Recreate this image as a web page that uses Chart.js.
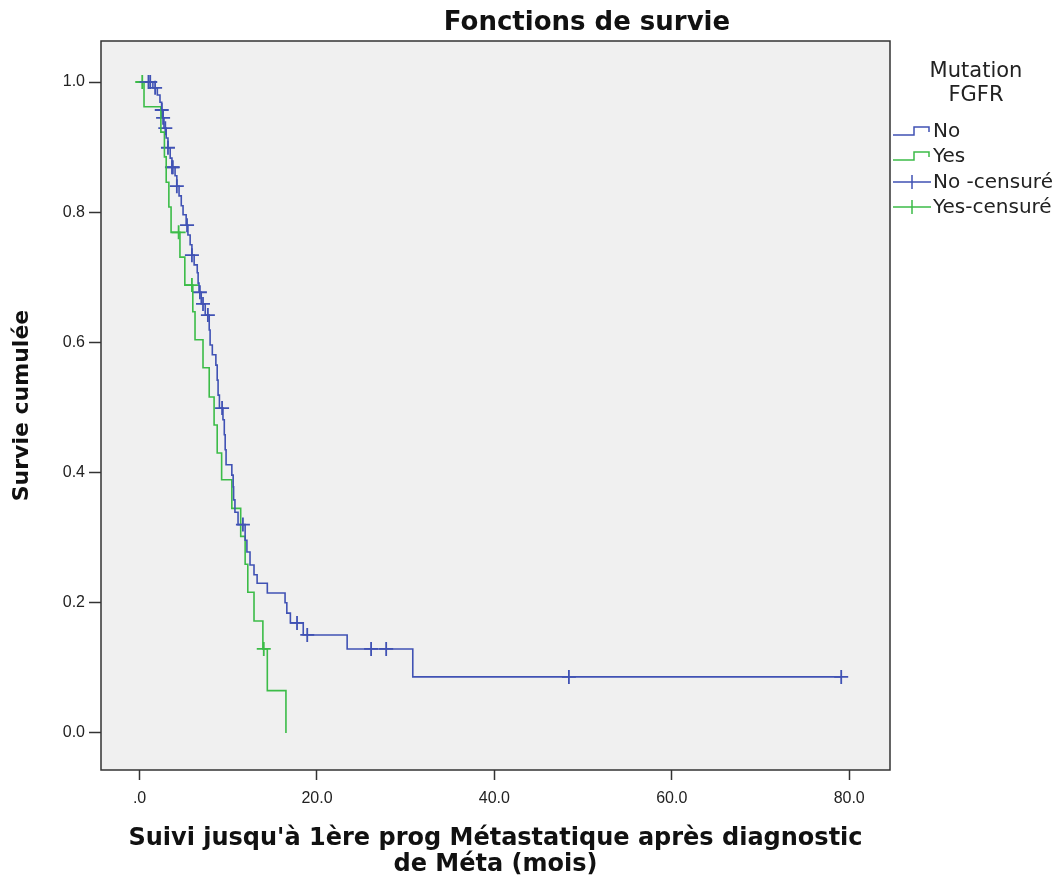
<!DOCTYPE html>
<html>
<head>
<meta charset="utf-8">
<script src="https://cdn.jsdelivr.net/npm/chart.js@4/dist/chart.umd.min.js"></script>
<style>
  body { margin: 0; background: #fff; }
  #km { display: block; }
</style>
</head>
<body>
<canvas id="km" width="1062" height="881"></canvas>
<script>
// Kaplan-Meier data: [time (mois), survie after the drop]
const noSteps = [
  [0, 1], [1.5, 0.991], [2.0, 0.980], [2.3, 0.969], [2.5, 0.957], [2.65, 0.945],
  [2.75, 0.929], [3.0, 0.914], [3.2, 0.899], [3.45, 0.883], [3.65, 0.869], [4.0, 0.856],
  [4.2, 0.840], [4.45, 0.825], [4.7, 0.810], [4.9, 0.796], [5.25, 0.780], [5.45, 0.765],
  [5.7, 0.750], [5.9, 0.734], [6.15, 0.719], [6.5, 0.707], [6.6, 0.691], [6.7, 0.677],
  [6.95, 0.659], [7.4, 0.642], [7.85, 0.619], [7.95, 0.596], [8.2, 0.581], [8.6, 0.565],
  [8.75, 0.542], [8.85, 0.519], [9.0, 0.499], [9.4, 0.481], [9.55, 0.458], [9.65, 0.435],
  [9.75, 0.412], [10.4, 0.396], [10.55, 0.378], [10.6, 0.358], [10.75, 0.339], [11.1, 0.320],
  [11.9, 0.296], [12.1, 0.278], [12.45, 0.258], [12.9, 0.243], [13.25, 0.230], [14.4, 0.215],
  [16.4, 0.200], [16.6, 0.184], [17.0, 0.169], [18.45, 0.1505], [23.4, 0.129], [30.8, 0.086],
  [79.1, 0.086]
];
const yesSteps = [
  [0, 1], [0.5, 0.962], [2.4, 0.923], [2.8, 0.885], [3.0, 0.846], [3.3, 0.808],
  [3.55, 0.769], [4.55, 0.731], [5.1, 0.688], [6.0, 0.647], [6.25, 0.604], [7.15, 0.561],
  [7.85, 0.516], [8.4, 0.473], [8.75, 0.430], [9.25, 0.389], [10.4, 0.345], [11.4, 0.302],
  [11.9, 0.259], [12.2, 0.216], [12.9, 0.172], [13.9, 0.129], [14.4, 0.065], [16.5, 0]
];
// censored times
const noCensored = [1.0, 1.2, 1.75, 2.5, 2.65, 2.9, 3.2, 3.65, 3.75, 4.2, 5.35, 5.9,
  6.8, 7.15, 7.7, 9.3, 11.65, 17.75, 18.9, 26.1, 27.8, 48.4, 79.1];
const yesCensored = [0.3, 4.4, 5.9, 14.0];

const xTicks = [0, 20, 40, 60, 80];
const yTicks = [0, 0.2, 0.4, 0.6, 0.8, 1.0];

const BLUE = '#4052b4';
const GREEN = '#3cbc48';
const FONT = "'Liberation Sans', Arial, sans-serif";
const WIDE = "'DejaVu Sans', 'Liberation Sans', sans-serif";

// survival value of a step curve at time t
function survAt(steps, t) {
  let s = 1;
  steps.forEach(p => { if (p[0] <= t) s = p[1]; });
  return s;
}

const toPts = steps => steps.map(p => ({ x: p[0], y: p[1] }));
const censorPts = (times, steps) => times.map(t => ({ x: t, y: survAt(steps, t) }));

// plot background + frame
const frame = {
  id: 'frame',
  beforeDatasetsDraw(chart) {
    const { ctx, chartArea: a } = chart;
    ctx.save();
    ctx.fillStyle = '#f0f0f0';
    ctx.fillRect(a.left, a.top, a.right - a.left, a.bottom - a.top);
    ctx.restore();
  },
  afterDatasetsDraw(chart) {
    const { ctx, chartArea: a } = chart;
    ctx.save();
    ctx.strokeStyle = '#333';
    ctx.lineWidth = 1.5;
    ctx.strokeRect(a.left, a.top, a.right - a.left, a.bottom - a.top);
    ctx.restore();
  }
};

// title and SPSS style legend
const decor = {
  id: 'decor',
  afterDraw(chart) {
    const ctx = chart.ctx;
    ctx.save();
    ctx.fillStyle = '#111';
    ctx.textAlign = 'center';
    ctx.textBaseline = 'middle';
    ctx.font = 'bold 26px ' + WIDE;
    ctx.fillText('Fonctions de survie', 587, 23);

    ctx.font = '21px ' + WIDE;
    ctx.fillStyle = '#222';
    ctx.fillText('Mutation', 976, 72);
    ctx.fillText('FGFR', 976, 96);

    ctx.textAlign = 'left';
    ctx.font = '20px ' + WIDE;
    ctx.lineWidth = 1.5;
    const rows = [
      { label: 'No', color: BLUE, kind: 'step', y: 131 },
      { label: 'Yes', color: GREEN, kind: 'step', y: 156 },
      { label: 'No -censuré', color: BLUE, kind: 'cross', y: 182 },
      { label: 'Yes-censuré', color: GREEN, kind: 'cross', y: 207 }
    ];
    rows.forEach(r => {
      ctx.strokeStyle = r.color;
      ctx.beginPath();
      if (r.kind === 'step') {
        ctx.moveTo(893, r.y + 4);
        ctx.lineTo(914, r.y + 4);
        ctx.lineTo(914, r.y - 4);
        ctx.lineTo(929, r.y - 4);
        ctx.lineTo(929, r.y + 1);
      } else {
        ctx.moveTo(893, r.y);
        ctx.lineTo(931, r.y);
        ctx.moveTo(912, r.y - 7);
        ctx.lineTo(912, r.y + 7);
      }
      ctx.stroke();
      ctx.fillStyle = '#222';
      ctx.fillText(r.label, 933, r.y + 1);
    });
    ctx.restore();
  }
};

new Chart(document.getElementById('km'), {
  type: 'scatter',
  data: {
    datasets: [
      {
        label: 'No',
        data: toPts(noSteps),
        showLine: true,
        stepped: 'before',
        borderColor: BLUE,
        borderWidth: 1.6,
        pointRadius: 0
      },
      {
        label: 'Yes',
        data: toPts(yesSteps),
        showLine: true,
        stepped: 'before',
        borderColor: GREEN,
        borderWidth: 1.6,
        pointRadius: 0
      },
      {
        label: 'No -censuré',
        data: censorPts(noCensored, noSteps),
        pointStyle: 'cross',
        pointRadius: 7,
        borderColor: BLUE,
        borderWidth: 1.8
      },
      {
        label: 'Yes-censuré',
        data: censorPts(yesCensored, yesSteps),
        pointStyle: 'cross',
        pointRadius: 7,
        borderColor: GREEN,
        borderWidth: 1.8
      }
    ]
  },
  options: {
    responsive: false,
    animation: false,
    events: [],
    layout: { padding: { top: 41, right: 172, left: 0, bottom: 0 } },
    plugins: {
      legend: { display: false },
      tooltip: { enabled: false },
      title: { display: false }
    },
    scales: {
      x: {
        type: 'linear',
        min: -4.35,
        max: 84.6,
        afterBuildTicks: axis => { axis.ticks = xTicks.map(v => ({ value: v })); },
        afterFit: axis => { axis.height = 111; },
        ticks: {
          color: '#222',
          font: { family: FONT, size: 16 },
          padding: 9,
          maxRotation: 0,
          callback: v => v === 0 ? '.0' : v.toFixed(1)
        },
        grid: { drawOnChartArea: false, tickLength: 10, color: '#333', tickWidth: 1.5 },
        border: { display: false },
        title: {
          display: true,
          text: ["Suivi jusqu'à 1ère prog Métastatique après diagnostic", 'de Méta (mois)'],
          color: '#111',
          font: { family: WIDE, size: 24, weight: 'bold', lineHeight: '26px' },
          padding: { top: 0, bottom: 3 }
        }
      },
      y: {
        min: -0.057,
        max: 1.063,
        afterBuildTicks: axis => { axis.ticks = yTicks.map(v => ({ value: v })); },
        afterFit: axis => { axis.width = 101; },
        ticks: {
          color: '#222',
          font: { family: FONT, size: 16 },
          padding: 4,
          callback: v => v.toFixed(1)
        },
        grid: { drawOnChartArea: false, tickLength: 12, color: '#333', tickWidth: 1.5 },
        border: { display: false },
        title: {
          display: true,
          text: 'Survie cumulée',
          color: '#111',
          font: { family: WIDE, size: 22, weight: 'bold', lineHeight: '26px' },
          padding: { top: 9, bottom: 0 }
        }
      }
    }
  },
  plugins: [frame, decor]
});
</script>
</body>
</html>
